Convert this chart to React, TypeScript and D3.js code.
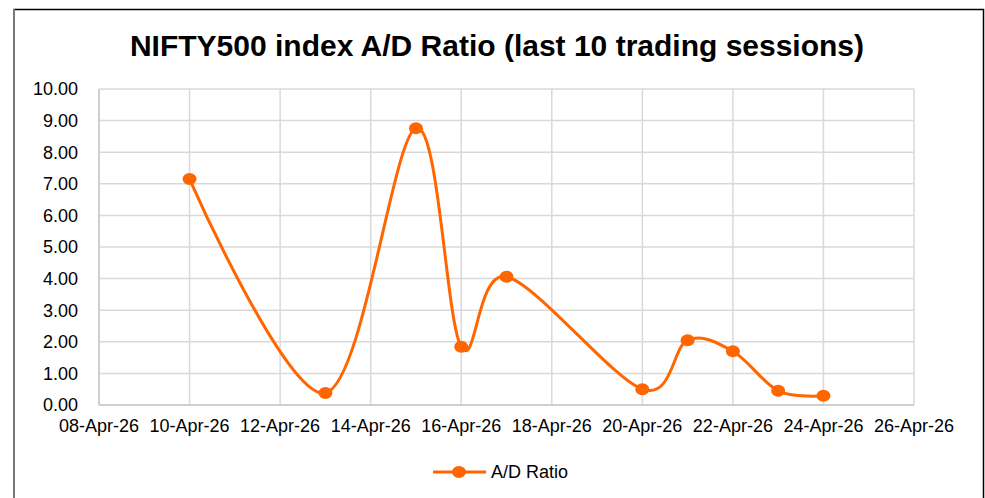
import React from "react";
import * as d3 from "d3";

const dates = ["2026-04-10","2026-04-13","2026-04-15","2026-04-16","2026-04-17","2026-04-20","2026-04-21","2026-04-22","2026-04-23","2026-04-24"];
const adRatio = [7.15, 0.38, 8.76, 1.84, 4.06, 0.5, 2.05, 1.7, 0.45, 0.29];
const yTicks = [0,1,2,3,4,5,6,7,8,9,10];
const xTickDates = ["2026-04-08","2026-04-10","2026-04-12","2026-04-14","2026-04-16","2026-04-18","2026-04-20","2026-04-22","2026-04-24","2026-04-26"];
const title = "NIFTY500 index A/D Ratio (last 10 trading sessions)";
const seriesName = "A/D Ratio";

const parse = d3.utcParse("%Y-%m-%d");
const fmtDate = d3.utcFormat("%d-%b-%y");

export default function App() {
  const W = 985, H = 498;
  const left = 99, right = 914, top = 89, bottom = 405;
  const x = d3.scaleUtc().domain([parse(xTickDates[0])!, parse(xTickDates[xTickDates.length-1])!]).range([left, right]);
  const y = d3.scaleLinear().domain([0, 10]).range([bottom, top]);
  const pts = dates.map((d, i) => [x(parse(d)!), y(adRatio[i])] as [number, number]);
  const line = d3.line().curve(d3.curveCardinal.tension(0))(pts) || "";
  const color = "#FF6600";
  const font = "'Liberation Sans', Arial, sans-serif";
  return (
    <svg width={W} height={H} style={{ position: "absolute", left: 0, top: 0, background: "#fff" }} fontFamily={font}>
      <rect x={0} y={0} width={W} height={H} fill="#fff" />
      <path d={`M14,${H} V9.5 H983.5 V${H}`} fill="none" stroke="#000" strokeWidth={1.5} />
      <line x1={14} x2={14} y1={9} y2={H} stroke="#777" strokeWidth={2} />
      <text x={497} y={56} textAnchor="middle" fontSize={30} fontWeight="bold" fill="#000">{title}</text>
      {yTicks.map(t => (
        <line key={"gy"+t} x1={left} x2={right} y1={y(t)} y2={y(t)} stroke="#d9d9d9" strokeWidth={1.5} />
      ))}
      {xTickDates.map(d => (
        <line key={"gx"+d} x1={x(parse(d)!)} x2={x(parse(d)!)} y1={top} y2={bottom} stroke="#d9d9d9" strokeWidth={1.5} />
      ))}
      <line x1={left} x2={left} y1={top} y2={bottom} stroke="#c8c8c8" strokeWidth={1.5} />
      <line x1={left} x2={right} y1={bottom} y2={bottom} stroke="#c8c8c8" strokeWidth={1.5} />
      {yTicks.map(t => (
        <text key={"ty"+t} x={78} y={y(t)} dy="0.35em" textAnchor="end" fontSize={18} fill="#000">{t.toFixed(2)}</text>
      ))}
      {xTickDates.map(d => (
        <text key={"tx"+d} x={x(parse(d)!)} y={432} textAnchor="middle" fontSize={18} fill="#000">{fmtDate(parse(d)!)}</text>
      ))}
      <path d={line} fill="none" stroke={color} strokeWidth={3} />
      {pts.map((p, i) => (
        <ellipse key={"m"+i} cx={p[0]} cy={p[1]} rx={7} ry={6} fill={color} />
      ))}
      <line x1={433} x2={486} y1={472} y2={472} stroke={color} strokeWidth={3} />
      <ellipse cx={459} cy={472} rx={7} ry={6} fill={color} />
      <text x={491} y={472} dy="0.35em" fontSize={18} fill="#000">{seriesName}</text>
    </svg>
  );
}
